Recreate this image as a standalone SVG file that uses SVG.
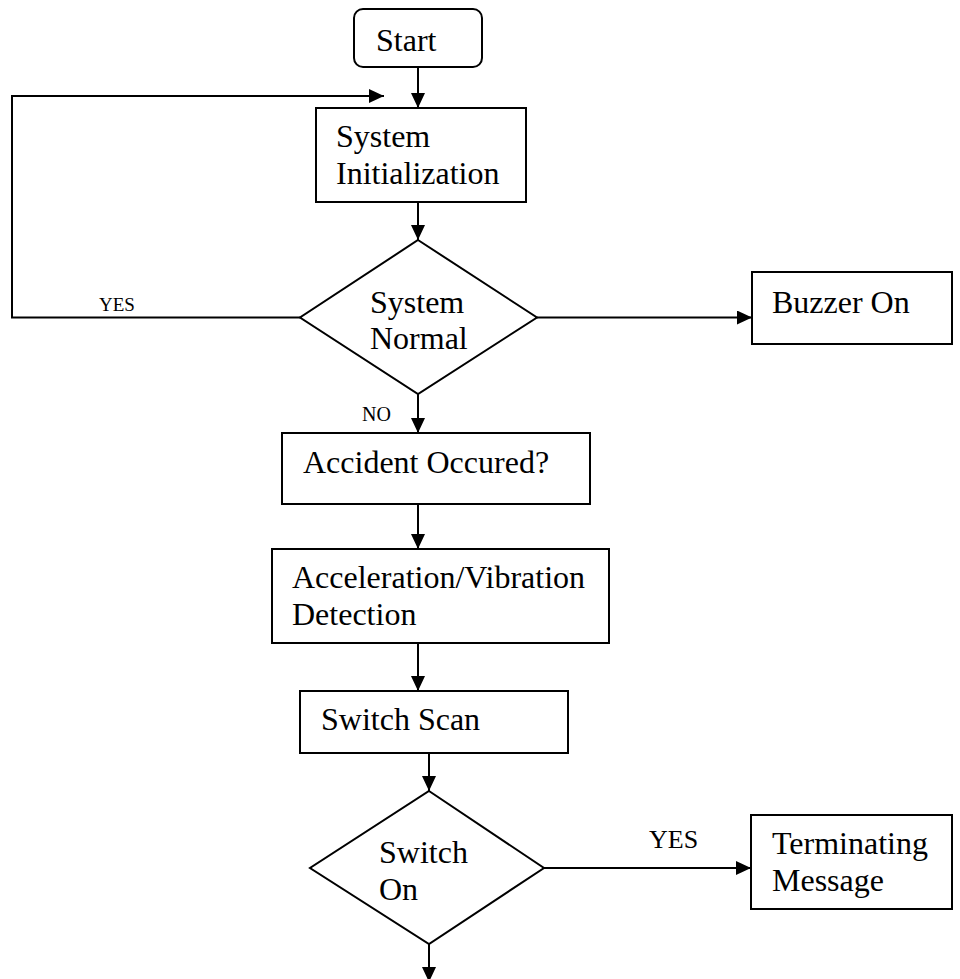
<svg xmlns="http://www.w3.org/2000/svg" width="960" height="979" viewBox="0 0 960 979">
<style>
.box{fill:#fff;stroke:#000;stroke-width:2}
.t{font-family:"Liberation Serif","Times New Roman",serif;font-size:32px;fill:#000}
.s{font-family:"Liberation Serif","Times New Roman",serif;fill:#000}
.c{fill:none;stroke:#000;stroke-width:2}
</style>
<defs>
<marker id="ah" markerWidth="15" markerHeight="14" refX="15" refY="7" orient="auto" markerUnits="userSpaceOnUse">
<path d="M0,0 L15,7 L0,14 Z" fill="#000"/>
</marker>
</defs>
<rect width="960" height="979" fill="#fff"/>
<g id="connectors">
<line class="c" x1="418" y1="67" x2="418" y2="108" marker-end="url(#ah)"/>
<polyline class="c" points="300,317.5 12,317.5 12,96 384,96" marker-end="url(#ah)"/>
<line class="c" x1="418" y1="202" x2="418" y2="240" marker-end="url(#ah)"/>
<line class="c" x1="537" y1="317.5" x2="752" y2="317.5" marker-end="url(#ah)"/>
<line class="c" x1="418" y1="394" x2="418" y2="433" marker-end="url(#ah)"/>
<line class="c" x1="418" y1="504" x2="418" y2="549" marker-end="url(#ah)"/>
<line class="c" x1="418" y1="643" x2="418" y2="691" marker-end="url(#ah)"/>
<line class="c" x1="429" y1="753" x2="429" y2="791" marker-end="url(#ah)"/>
<line class="c" x1="544" y1="868" x2="751" y2="868" marker-end="url(#ah)"/>
<line class="c" x1="429" y1="944" x2="429" y2="982" marker-end="url(#ah)"/>
<text class="s" x="99" y="311" font-size="19">YES</text>
<text class="s" x="362" y="421" font-size="20">NO</text>
<text class="s" x="649" y="848" font-size="26">YES</text>
</g>
<g id="start">
<rect class="box" x="354" y="9" width="128" height="58" rx="9"/>
<text class="t" x="376" y="51">Start</text>
</g>
<g id="init">
<rect class="box" x="316" y="108" width="210" height="94"/>
<text class="t" x="336" y="147">System</text>
<text class="t" x="336" y="184">Initialization</text>
</g>
<g id="normal">
<polygon class="box" points="418,240 537,317.5 418,394 300,317.5"/>
<text class="t" x="370" y="313">System</text>
<text class="t" x="370" y="349">Normal</text>
</g>
<g id="buzzer">
<rect class="box" x="752" y="272" width="200" height="72"/>
<text class="t" x="772" y="313">Buzzer On</text>
</g>
<g id="accident">
<rect class="box" x="282" y="433" width="308" height="71"/>
<text class="t" x="303" y="473">Accident Occured?</text>
</g>
<g id="accel">
<rect class="box" x="272" y="549" width="337" height="94"/>
<text class="t" x="292" y="588">Acceleration/Vibration</text>
<text class="t" x="292" y="625">Detection</text>
</g>
<g id="scan">
<rect class="box" x="300" y="691" width="268" height="62"/>
<text class="t" x="321" y="730">Switch Scan</text>
</g>
<g id="switchon">
<polygon class="box" points="429,791 544,868 429,944 310,868"/>
<text class="t" x="379" y="863">Switch</text>
<text class="t" x="379" y="900">On</text>
</g>
<g id="terminating">
<rect class="box" x="751" y="815" width="201" height="94"/>
<text class="t" x="772" y="854">Terminating</text>
<text class="t" x="772" y="891">Message</text>
</g>
</svg>
